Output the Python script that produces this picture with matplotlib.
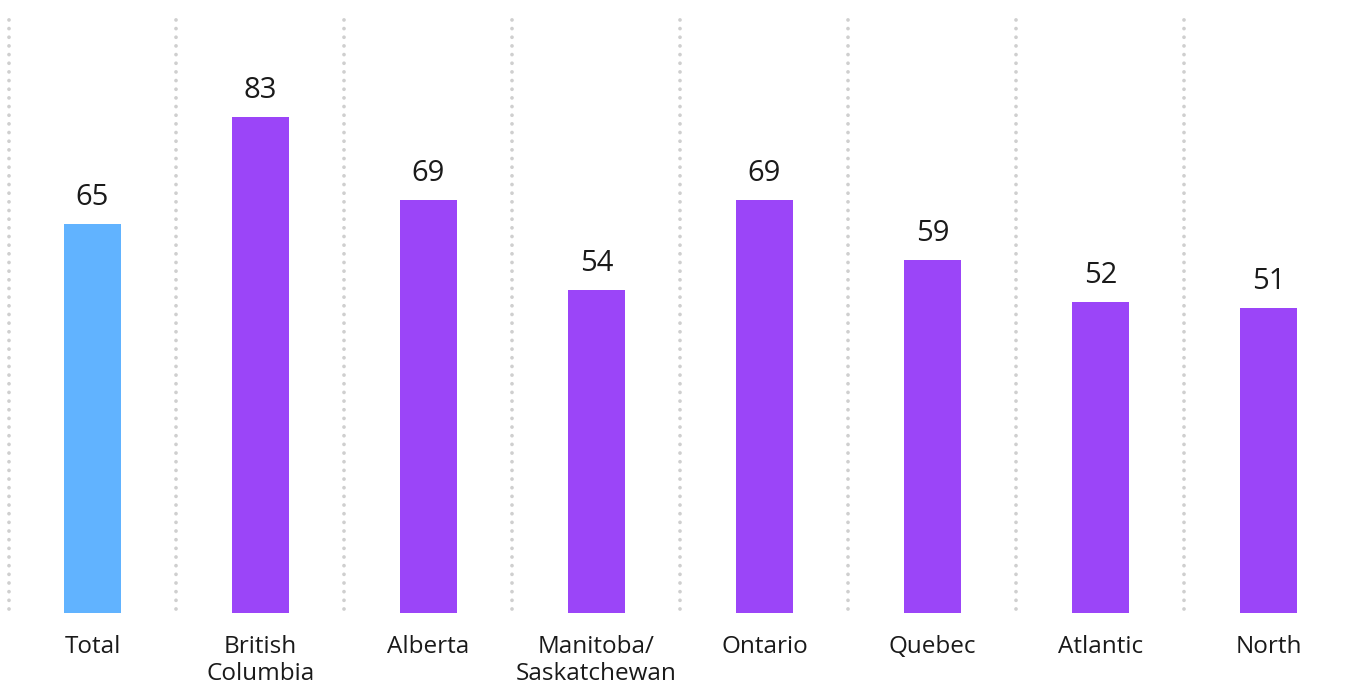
import matplotlib
matplotlib.use("Agg")
import matplotlib.pyplot as plt
import numpy as np

categories = ["Total", "British\nColumbia", "Alberta", "Manitoba/\nSaskatchewan",
              "Ontario", "Quebec", "Atlantic", "North"]
values = [65, 83, 69, 54, 69, 59, 52, 51]
colors = ["#61B3FF"] + ["#9B45F8"] * 7

plt.rcParams['font.family'] = ['Open Sans', 'DejaVu Sans']

W, H = 1345, 687
fig = plt.figure(figsize=(W / 100, H / 100), dpi=100)
left = 8.5 / W
bottom = (H - 612.5) / H
top = (H - 15) / H
ax = fig.add_axes([left, bottom, 1 - left, top - bottom])

x = np.arange(len(categories))
ax.bar(x, values, width=0.34, color=colors, zorder=2)

for xi, v in zip(x, values):
    ax.annotate(f"{v}", (xi, v), xytext=(0, 8.5), textcoords="offset points",
                ha="center", va="bottom", fontsize=21, color="#1a1a1a")

# dotted separators at category boundaries
for b in np.arange(len(categories)) - 0.5:
    ax.plot([b, b], [0.6, 100], linestyle=(0, (0.01, 2.3)), dash_capstyle="round",
            color="#cfcfcf", linewidth=2.7, zorder=1, clip_on=False)

ax.set_xlim(-0.5, -0.5 + (W - 8.5) / 168)
ax.set_ylim(0, 100)
ax.set_xticks(x)
ax.set_xticklabels(categories, fontsize=17.5, color="#1a1a1a", linespacing=1.18)
ax.tick_params(axis="x", length=0, pad=16)
ax.set_yticks([])
for s in ax.spines.values():
    s.set_visible(False)

fig.savefig("out.png", dpi=100)
